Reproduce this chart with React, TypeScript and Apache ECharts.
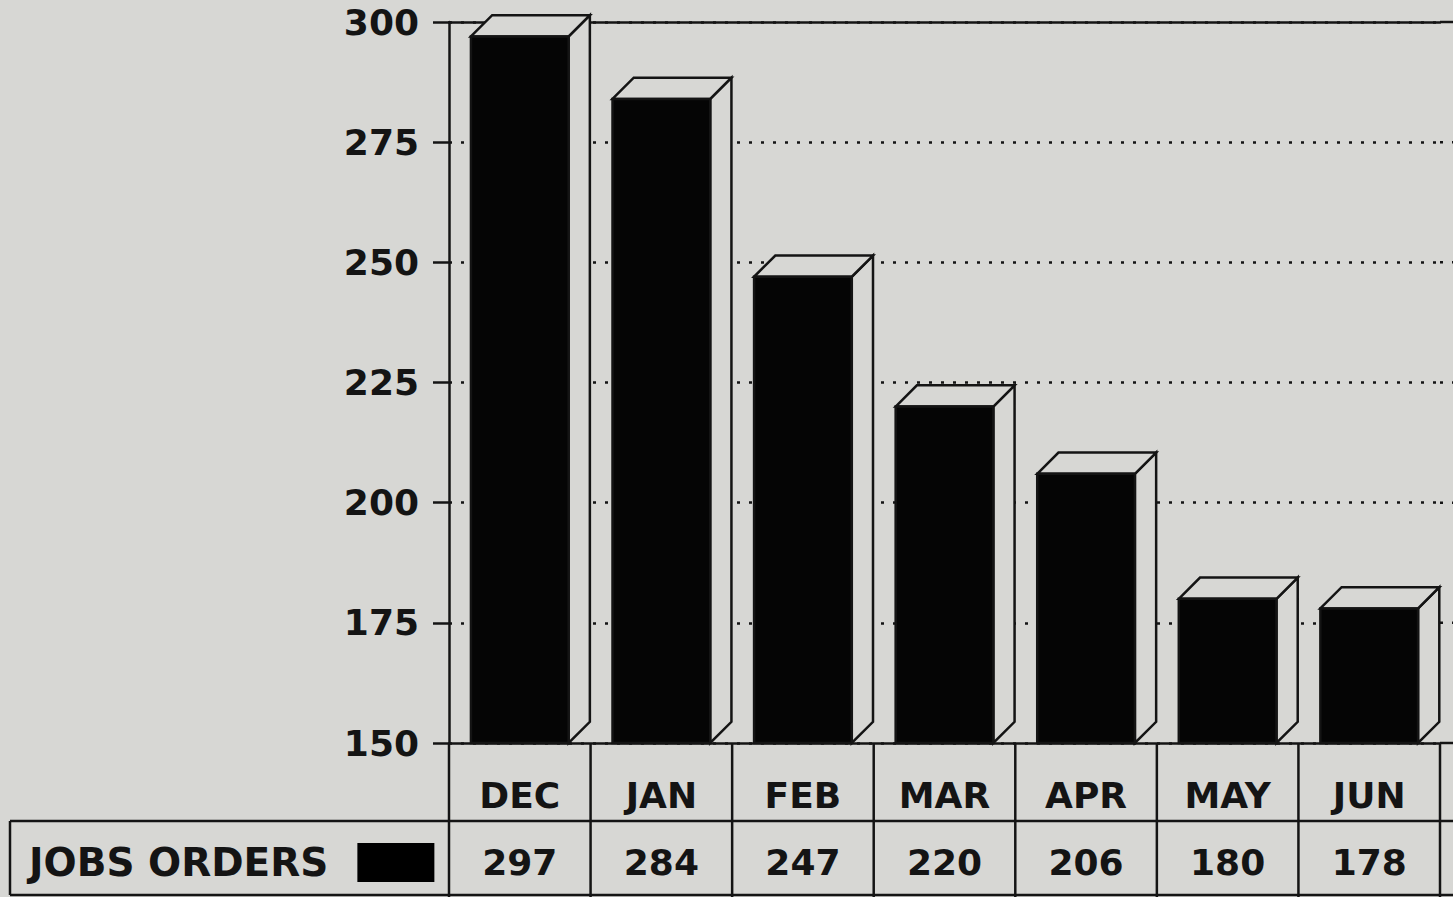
import React, { useEffect, useRef } from "react";
import * as echarts from "echarts";

const categories = ["DEC", "JAN", "FEB", "MAR", "APR", "MAY", "JUN"];
const jobsOrders = [297, 284, 247, 220, 206, 180, 178];
const seriesName = "JOBS ORDERS";
const yMin = 150;
const yMax = 300;
const yStep = 25;

const BG = "#d7d7d4";
const INK = "#141414";
const FONT = "DejaVu Sans";

export default function App() {
  const ref = useRef<HTMLDivElement>(null);

  useEffect(() => {
    if (!ref.current) return;
    const chart = echarts.init(ref.current, null, { renderer: "svg" });

    const labelStyle = {
      color: INK,
      fontFamily: FONT,
      fontWeight: "bold" as const,
      fontSize: 36,
    };
    const LW = 2.5;
    const solid = { color: INK, width: LW };

    const option: any = {
      animation: false,
      backgroundColor: BG,
      grid: { left: 449, top: 22, width: 991, height: 721, containLabel: false },
      legend: {
        left: 24,
        top: 838,
        align: "right",
        icon: "rect",
        itemWidth: 77,
        itemHeight: 39,
        selectedMode: false,
        itemStyle: { color: "#000" },
        textStyle: { ...labelStyle, fontSize: 39, padding: [0, 24, 0, 0] },
        data: [seriesName],
      },
      xAxis: [
        {
          type: "category",
          data: categories,
          position: "bottom",
          axisLine: { onZero: false, lineStyle: solid },
          axisTick: { alignWithLabel: true, length: 15, lineStyle: solid },
          axisLabel: { ...labelStyle, margin: 34 },
          splitLine: { show: false },
        },
        {
          type: "category",
          data: jobsOrders.map(String),
          position: "bottom",
          offset: 78,
          axisLine: { show: false },
          axisTick: { show: false },
          axisLabel: { ...labelStyle, margin: 23 },
          splitLine: { show: false },
        },
        {
          type: "category",
          data: categories,
          position: "top",
          axisLine: { onZero: false, lineStyle: solid },
          axisTick: { show: false },
          axisLabel: { show: false },
          splitLine: { show: false },
        },
      ],
      yAxis: {
        type: "value",
        min: yMin,
        max: yMax,
        interval: yStep,
        axisLine: { show: true, onZero: false, lineStyle: solid },
        axisTick: { show: true, length: 16, lineStyle: solid },
        axisLabel: { ...labelStyle, margin: 30 },
        splitLine: {
          show: true,
          lineStyle: { color: INK, width: LW, type: [3, 9] },
        },
      },
      series: [
        {
          type: "custom",
          name: seriesName,
          itemStyle: { color: "#000" },
          encode: { x: 0, y: 1 },
          data: jobsOrders.map((v, i) => [i, v]),
          renderItem: (params: any, api: any) => {
            const idx = api.value(0);
            const v = api.value(1);
            const top = api.coord([idx, v]);
            const base = api.coord([idx, yMin]);
            const band = api.size([1, 0])[0];
            const w = band * 0.69;
            const d = band * 0.15;
            const x0 = top[0] - w / 2;
            const x1 = x0 + w;
            const yT = top[1];
            const yB = base[1];
            const faceStyle = { fill: BG, stroke: INK, lineWidth: LW };
            return {
              type: "group",
              children: [
                {
                  type: "polygon",
                  shape: { points: [[x1, yT], [x1 + d, yT - d], [x1 + d, yB - d], [x1, yB]] },
                  style: faceStyle,
                },
                {
                  type: "polygon",
                  shape: { points: [[x0, yT], [x0 + d, yT - d], [x1 + d, yT - d], [x1, yT]] },
                  style: faceStyle,
                },
                {
                  type: "rect",
                  shape: { x: x0, y: yT, width: w, height: yB - yT },
                  style: { fill: "#050505", stroke: INK, lineWidth: LW },
                },
              ],
            };
          },
        },
      ],
    };

    chart.setOption(option);

    // Table grid and line extensions derived from the axes' own scales
    const centers = categories.map((c) => chart.convertToPixel({ xAxisIndex: 0 }, c) as number);
    const band = centers[1] - centers[0];
    const bounds = [centers[0] - band / 2, ...centers.map((c) => c + band / 2)];
    const yBase = chart.convertToPixel({ yAxisIndex: 0 }, yMin) as number;
    const yTop = chart.convertToPixel({ yAxisIndex: 0 }, yMax) as number;
    const rowSplit = yBase + 78;
    const tableBottom = yBase + 152;
    const pageRight = 1453;
    const tableLeft = 10;
    const gridRight = bounds[bounds.length - 1];

    const g: any[] = [];
    const ln = (x1: number, y1: number, x2: number, y2: number, dashed = false) => ({
      type: "line",
      silent: true,
      shape: { x1, y1, x2, y2 },
      style: { stroke: INK, lineWidth: LW, lineDash: dashed ? [3, 9] : null },
    });
    bounds.forEach((b) => g.push(ln(b, yBase, b, 897)));
    g.push(ln(tableLeft, rowSplit, pageRight, rowSplit));
    g.push(ln(tableLeft, tableBottom, pageRight, tableBottom));
    g.push(ln(tableLeft, rowSplit, tableLeft, tableBottom));
    g.push(ln(gridRight, yBase, pageRight, yBase));
    g.push(ln(gridRight, yTop, pageRight, yTop));
    for (let v = yMin + yStep; v < yMax; v += yStep) {
      const y = chart.convertToPixel({ yAxisIndex: 0 }, v) as number;
      g.push(ln(gridRight, y, pageRight, y, true));
    }
    chart.setOption({ graphic: g });

    return () => chart.dispose();
  }, []);

  return (
    <div
      ref={ref}
      style={{ position: "absolute", left: 0, top: 0, width: 1453, height: 897 }}
    />
  );
}
